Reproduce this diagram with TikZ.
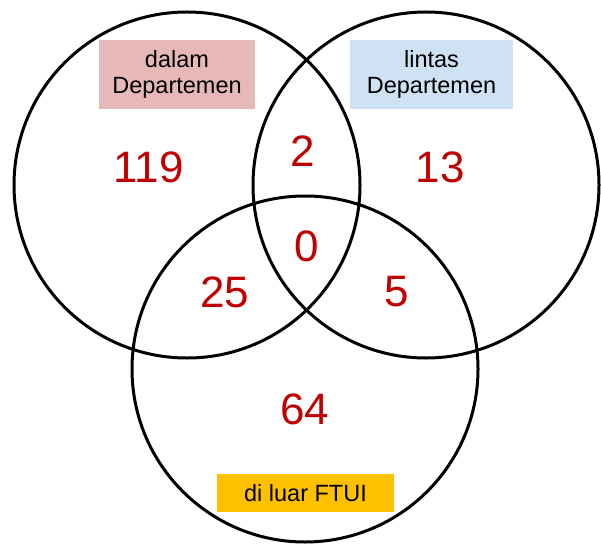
\documentclass[tikz,border=0pt]{standalone}
\usepackage{fontspec}
\setmainfont{Liberation Sans}
\usepackage{tikz}

\definecolor{numred}{HTML}{C00000}
\definecolor{dalamfill}{HTML}{E6B8B8}
\definecolor{lintasfill}{HTML}{CFE2F3}
\definecolor{luarfill}{HTML}{FFC000}

\begin{document}
\begin{tikzpicture}[x=1pt, y=-1pt,
  venn/.style={draw, circle, line width=3pt, minimum size=346pt, inner sep=0pt},
  tag/.style={inner sep=0pt, align=center, font=\fontsize{23.5}{26}\selectfont},
  count/.style={text=numred, inner sep=0pt, font=\fontsize{44}{48}\selectfont}]
  \useasboundingbox (0,0) rectangle (601,545);
  % the three sets
  \node[venn] (dalam) at (187,185) {};
  \node[venn] (lintas) at (426,185) {};
  \node[venn] (luar) at (305,369) {};
  % set labels
  \node[tag, fill=dalamfill, minimum width=156pt, minimum height=69pt] (dalamtag) at (177,74.5) {dalam\\Departemen};
  \node[tag, fill=lintasfill, minimum width=163pt, minimum height=69pt] (lintastag) at (431.5,74.5) {lintas\\Departemen};
  \node[tag, fill=luarfill, minimum width=177pt, minimum height=38pt] (luartag) at (305.5,493) {di luar FTUI};
  % counts
  \node[count] (n119) at (148.5,167.5) {119};
  \node[count] (n2) at (303,151) {2};
  \node[count] (n13) at (440,167.5) {13};
  \node[count] (n0) at (307,246) {0};
  \node[count] (n25) at (225,292) {25};
  \node[count] (n5) at (397,292) {5};
  \node[count] (n64) at (305,409) {64};
\end{tikzpicture}
\end{document}
